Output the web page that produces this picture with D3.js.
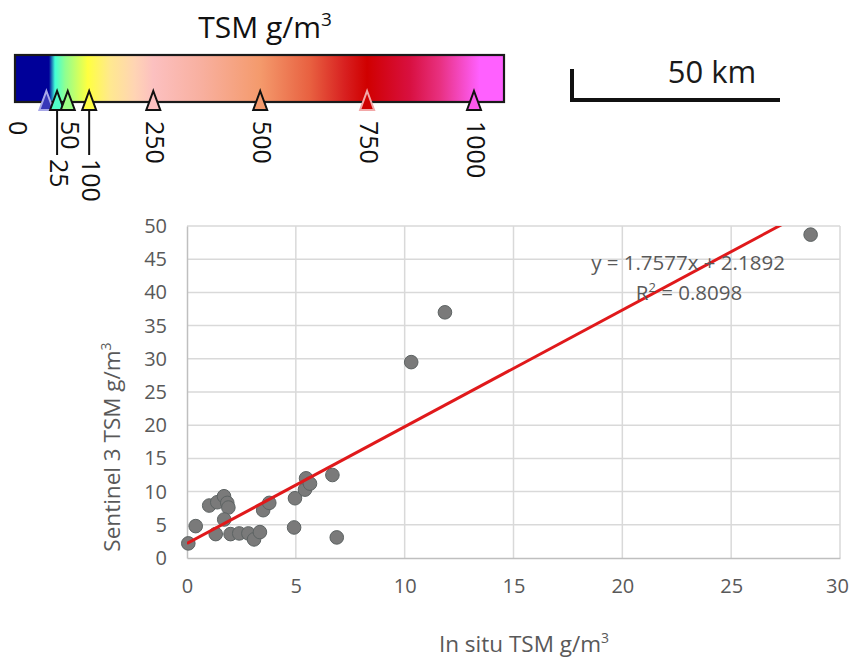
<!DOCTYPE html>
<html>
<head>
<meta charset="utf-8">
<script src="https://cdn.jsdelivr.net/npm/d3@7"></script>
<style>
  html, body { margin: 0; padding: 0; background: #fff; }
  svg { display: block; font-family: "Open Sans", "Liberation Sans", sans-serif; }
</style>
</head>
<body>
<svg id="chart" width="850" height="661"></svg>
<script>
// In situ vs Sentinel 3 TSM (g/m3) sample pairs
const inSitu =    [0.06, 0.4, 1.02, 1.39, 1.7, 1.85, 1.9, 1.71, 1.32, 2.0, 2.4, 2.82, 3.08, 3.35, 3.5, 3.78, 4.92, 4.96, 5.42, 5.47, 5.65, 6.68, 6.88, 10.3, 11.85, 28.65];
const sentinel3 = [2.2, 4.8, 7.9, 8.4, 9.3, 8.3, 7.6, 5.8, 3.6, 3.6, 3.7, 3.7, 2.8, 3.9, 7.2, 8.3, 4.6, 9.0, 10.3, 12.0, 11.2, 12.5, 3.1, 29.5, 37.0, 48.7];

// Linear fit
const slope = 1.7577;
const intercept = 2.1892;
const rSquared = 0.8098;

// Axis ticks
const xTicks = [0, 5, 10, 15, 20, 25, 30];
const yTicks = [0, 5, 10, 15, 20, 25, 30, 35, 40, 45, 50];

// Colour bar: tick values and gradient stops
const cbTicks = [0, 25, 50, 100, 250, 500, 750, 1000];
const cbStopValues = [-80, 6, 20, 44, 74, 97, 150, 207, 250, 360, 500, 617, 698, 750, 850, 920, 1013, 1080];
const cbStopColors = ["#000099", "#000099", "#40ffd8", "#90ff90", "#d0ff60", "#ffff40", "#ffe890", "#ffd4b4", "#fcc0c0", "#f8b0a0", "#f49a6c", "#e86040", "#d82020", "#d00000", "#d81040", "#e83080", "#ff60ff", "#ff60ff"];

const svg = d3.select("#chart");
const grey = "#595959";

// ---------- colour bar ----------
const cb = { left: 15, right: 504, top: 55, bottom: 102 };
const cbScale = d3.scaleLinear().domain([0, 1000]).range([46.4, 474]);
const cbColor = d3.scaleLinear().domain(cbStopValues).range(cbStopColors).clamp(true);

const defs = svg.append("defs");
const grad = defs.append("linearGradient").attr("id", "tsmGrad")
  .attr("gradientUnits", "userSpaceOnUse")
  .attr("x1", cb.left).attr("x2", cb.right).attr("y1", 0).attr("y2", 0);
grad.selectAll("stop").data(cbStopValues).join("stop")
  .attr("offset", (v) => Math.max(0, Math.min(1, (cbScale(v) - cb.left) / (cb.right - cb.left))))
  .attr("stop-color", (v, i) => cbStopColors[i]);

svg.append("text")
  .attr("x", 265).attr("y", 38)
  .attr("text-anchor", "middle")
  .attr("font-size", 30).attr("fill", "#111")
  .html('TSM g/m<tspan font-size="19" dy="-12">3</tspan>');

svg.append("rect")
  .attr("x", cb.left).attr("y", cb.top)
  .attr("width", cb.right - cb.left).attr("height", cb.bottom - cb.top)
  .attr("fill", "url(#tsmGrad)")
  .attr("stroke", "#1a1a1a").attr("stroke-width", 2.2);

// tick markers
const triStroke = (v) => v === 0 ? "#a8a8e8" : v === 750 ? "#f2a8a8" : "#111";
svg.append("g").selectAll("path").data(cbTicks).join("path")
  .attr("d", (v) => {
    const x = cbScale(v);
    return `M${x},91 L${x + 7},110 L${x - 7},110 Z`;
  })
  .attr("fill", (v) => v === 0 ? "#3838b8" : cbColor(v))
  .attr("stroke", triStroke)
  .attr("stroke-width", 2)
  .attr("stroke-linejoin", "miter");

// leader lines for the crowded low-end labels
const leader = [25, 100];
svg.append("g").selectAll("line").data(leader).join("line")
  .attr("x1", (v) => cbScale(v)).attr("x2", (v) => cbScale(v))
  .attr("y1", 111).attr("y2", 155)
  .attr("stroke", "#111").attr("stroke-width", 2);

// rotated tick labels
const labelPos = (v) => {
  if (v === 0) return { x: 9, y: 121 };
  if (v === 25 || v === 100) return { x: cbScale(v) - 7, y: 159 };
  return { x: cbScale(v) - 7, y: 121 };
};
svg.append("g").selectAll("text").data(cbTicks).join("text")
  .attr("transform", (v) => {
    const p = labelPos(v);
    return `translate(${p.x},${p.y}) rotate(90)`;
  })
  .attr("font-size", 25).attr("fill", "#111")
  .text((v) => v);

// ---------- scale bar ----------
svg.append("path")
  .attr("d", "M572,69 L572,100 L780,100")
  .attr("fill", "none").attr("stroke", "#111").attr("stroke-width", 4);
svg.append("text")
  .attr("x", 712).attr("y", 83)
  .attr("text-anchor", "middle")
  .attr("font-size", 31).attr("fill", "#1a1a1a")
  .text("50 km");

// ---------- scatter plot ----------
const plot = { left: 187, right: 840, top: 226, bottom: 558 };
const x = d3.scaleLinear().domain([0, 30]).range([plot.left, plot.right]);
const y = d3.scaleLinear().domain([0, 50]).range([plot.bottom, plot.top]);

// gridlines
svg.append("g").selectAll("line").data(yTicks.slice(1)).join("line")
  .attr("x1", plot.left).attr("x2", plot.right)
  .attr("y1", (d) => y(d)).attr("y2", (d) => y(d))
  .attr("stroke", "#d9d9d9").attr("stroke-width", 1.5);
svg.append("g").selectAll("line").data(xTicks.slice(1)).join("line")
  .attr("x1", (d) => x(d)).attr("x2", (d) => x(d))
  .attr("y1", plot.top).attr("y2", plot.bottom)
  .attr("stroke", "#d9d9d9").attr("stroke-width", 1.5);

// axes
const xAxis = d3.axisBottom(x).tickValues(xTicks).tickSize(0).tickPadding(21);
const yAxis = d3.axisLeft(y).tickValues(yTicks).tickSize(0).tickPadding(20);
const gx = svg.append("g").attr("transform", `translate(0,${plot.bottom})`).call(xAxis);
const gy = svg.append("g").attr("transform", `translate(${plot.left},0)`).call(yAxis);
[gx, gy].forEach((g) => {
  g.select(".domain").attr("stroke", "#bfbfbf").attr("stroke-width", 1.5);
  g.selectAll("text").attr("font-size", 20).attr("fill", grey)
    .attr("font-family", '"Open Sans", "Liberation Sans", sans-serif');
});
// keep the last x label inside the page edge
gx.selectAll(".tick text").filter((d) => d === 30).attr("dx", "-3");

// axis titles
svg.append("text")
  .attr("x", 524).attr("y", 652)
  .attr("text-anchor", "middle")
  .attr("font-size", 22.5).attr("fill", grey)
  .html('In situ TSM g/m<tspan font-size="14" dy="-9">3</tspan>');
svg.append("text")
  .attr("transform", "translate(120,447) rotate(-90)")
  .attr("text-anchor", "middle")
  .attr("font-size", 22.5).attr("fill", grey)
  .html('Sentinel 3 TSM g/m<tspan font-size="14" dy="-9">3</tspan>');

// points
const pts = inSitu.map((v, i) => ({ x: v, y: sentinel3[i] }));
svg.append("g").selectAll("circle").data(pts).join("circle")
  .attr("cx", (d) => x(d.x)).attr("cy", (d) => y(d.y))
  .attr("r", 6.8)
  .attr("fill", "#7a7a7a")
  .attr("stroke", "#5d6363").attr("stroke-width", 1);

// trend line, clipped to the plot area
defs.append("clipPath").attr("id", "plotClip")
  .append("rect").attr("x", plot.left).attr("y", plot.top)
  .attr("width", plot.right - plot.left).attr("height", plot.bottom - plot.top);
const fitX = [0, 30];
svg.append("line")
  .attr("clip-path", "url(#plotClip)")
  .attr("x1", x(fitX[0])).attr("y1", y(slope * fitX[0] + intercept))
  .attr("x2", x(fitX[1])).attr("y2", y(slope * fitX[1] + intercept))
  .attr("stroke", "#e0191b").attr("stroke-width", 3);

// equation
svg.append("text")
  .attr("x", 688).attr("y", 270)
  .attr("text-anchor", "middle")
  .attr("font-size", 20.5).attr("fill", grey)
  .text(`y = ${slope}x + ${intercept}`);
svg.append("text")
  .attr("x", 689).attr("y", 300)
  .attr("text-anchor", "middle")
  .attr("font-size", 20.5).attr("fill", grey)
  .html(`R<tspan font-size="13" dy="-8">2</tspan><tspan dy="8"> = ${rSquared}</tspan>`);
</script>
</body>
</html>
